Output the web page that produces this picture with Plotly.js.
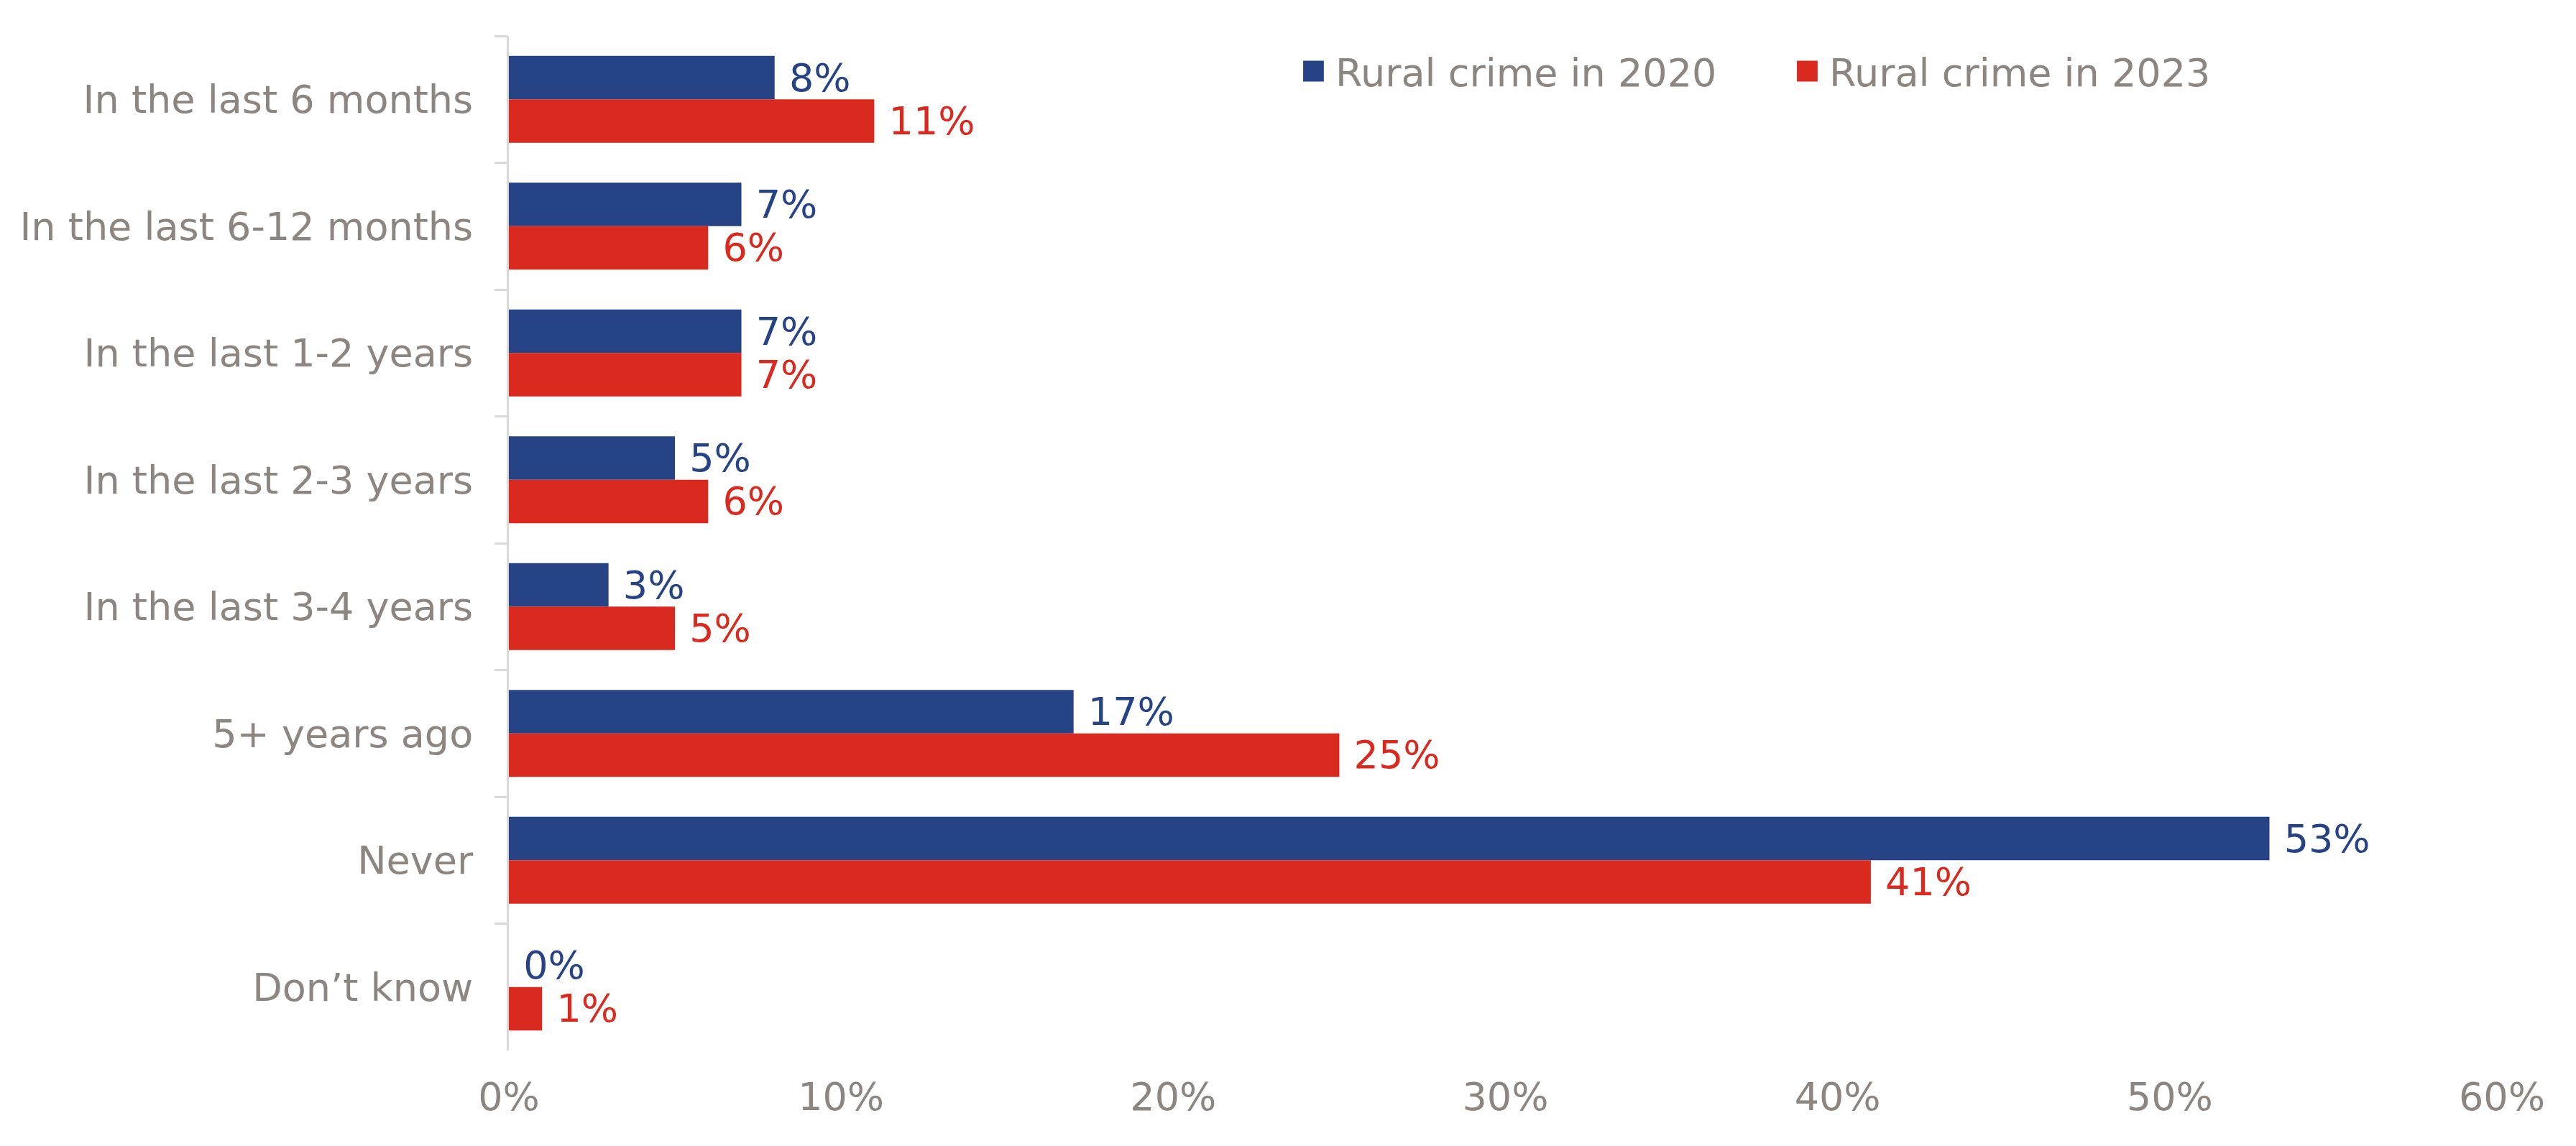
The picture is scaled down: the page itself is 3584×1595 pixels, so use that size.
<!DOCTYPE html>
<html>
<head>
<meta charset="utf-8">
<script src="https://cdn.plot.ly/plotly-3.0.1.min.js"></script>
<style>
html,body{margin:0;padding:0;background:#fff;}
#chart{width:3584px;height:1595px;}
#chart .legend .legendpoints path{transform-box:fill-box;transform-origin:center;transform:translate(30.5px,0) scale(2.4);}
</style>
</head>
<body>
<div id="chart"></div>
<script>
const categories = ["In the last 6 months", "In the last 6-12 months", "In the last 1-2 years", "In the last 2-3 years", "In the last 3-4 years", "5+ years ago", "Never", "Don\u2019t know"];
const values2020 = [8, 7, 7, 5, 3, 17, 53, 0];
const values2023 = [11, 6, 7, 6, 5, 25, 41, 1];
const seriesNames = ["Rural crime in 2020", "Rural crime in 2023"];
const xTickVals = [0, 10, 20, 30, 40, 50, 60];
const xTickText = ["0%", "10%", "20%", "30%", "40%", "50%", "60%"];

const BLUE = "#264485", RED = "#DA291E", GREY = "#8C8580";
const FONT = "DejaVu Sans";
const FS = 54;

function barTrace(name, vals, color) {
  return {
    type: "bar", orientation: "h", name: name,
    y: categories, x: vals,
    marker: {color: color},
    text: vals.map(v => "\u00a0" + v + "%"),
    textposition: "outside",
    textfont: {family: FONT, size: FS, color: color},
    constraintext: "none",
    cliponaxis: false,
    hoverinfo: "skip"
  };
}

const data = [barTrace(seriesNames[0], values2020, BLUE), barTrace(seriesNames[1], values2023, RED)];

const layout = {
  width: 3584, height: 1595,
  margin: {l: 708, r: 103, t: 50, b: 133, pad: 0},
  paper_bgcolor: "#fff", plot_bgcolor: "#fff",
  barmode: "group", bargap: 0.315, bargroupgap: 0,
  font: {family: FONT, size: FS, color: GREY},
  showlegend: true,
  legend: {
    orientation: "h", x: 0.3927, xanchor: "left", y: 0.965, yanchor: "middle",
    font: {family: FONT, size: FS, color: GREY},
    itemwidth: 51, entrywidth: 621, bgcolor: "rgba(0,0,0,0)", traceorder: "normal"
  },
  xaxis: {
    range: [0, 60], tickmode: "array", tickvals: xTickVals, ticktext: xTickText,
    showgrid: false, zeroline: false, showline: false, ticks: "",
    ticklabelstandoff: 28,
    tickfont: {family: FONT, size: FS, color: GREY}, fixedrange: true
  },
  yaxis: {
    autorange: "reversed", type: "category",
    showgrid: false, zeroline: false,
    showline: true, linecolor: "#D9D9D9", linewidth: 3,
    ticks: "outside", tickson: "boundaries", ticklen: 17, tickwidth: 3, tickcolor: "#D9D9D9",
    ticklabelstandoff: 36,
    tickfont: {family: FONT, size: FS, color: GREY}, fixedrange: true
  }
};

Plotly.newPlot("chart", data, layout, {displayModeBar: false, staticPlot: true});
</script>
</body>
</html>
